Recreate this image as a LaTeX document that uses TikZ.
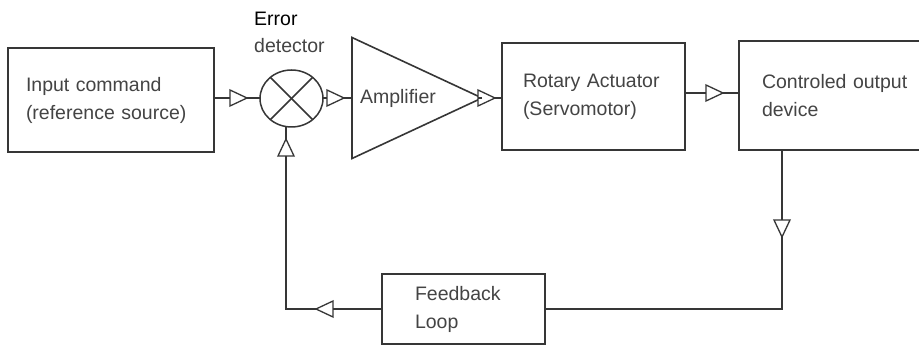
\documentclass[tikz,border=0pt]{standalone}
\usepackage{fontspec}
\setmainfont{Liberation Sans}
\usetikzlibrary{shapes.geometric}
\definecolor{ln}{HTML}{363636}
\definecolor{tx}{HTML}{444444}
\tikzset{
  blockbox/.style={draw=ln, line width=1.6pt, rectangle, align=left, text=tx,
    font=\fontsize{19.5}{28}\selectfont, outer sep=0pt},
  conn/.style={draw=ln, line width=1.5pt},
  tri/.style={draw=ln, line width=1.3pt, fill=white, isosceles triangle,
    isosceles triangle stretches, minimum width=16pt, minimum height=17pt,
    inner sep=0pt, outer sep=0pt},
  lbl/.style={text=tx, font=\fontsize{19.5}{28}\selectfont, inner sep=0pt}
}
\begin{document}
\begin{tikzpicture}[x=1pt,y=-1pt]
\path[use as bounding box, clip] (0,0) rectangle (919,347);
\fill[white] (0,0) rectangle (919,347);

% blocks
\node[blockbox, minimum width=206pt, minimum height=104pt, text width=170pt, inner xsep=18pt]
  (in) at (111,100) {Input command\\(reference source)};
\node[draw=ln, line width=1.5pt, ellipse, minimum width=63pt, minimum height=57pt, inner sep=0pt, outer sep=0pt]
  (det) at (291.5,98.5) {};
\draw[conn] (det.135) -- (det.-45);
\draw[conn] (det.45) -- (det.-135);
\node[lbl, text=black, anchor=base west] (err) at (254,26) {Error};
\node[lbl, anchor=base west] (detl) at (254,53) {detector};

\node[draw=ln, line width=1.6pt, isosceles triangle, isosceles triangle stretches,
  minimum width=121pt, minimum height=130pt, inner sep=0pt, outer sep=0pt,
  anchor=lower side] (amp) at (352,98) {};
\node[lbl] (ampl) at (398,98) {Amplifier};

\node[blockbox, minimum width=183pt, minimum height=107pt, text width=141pt, inner xsep=21pt]
  (rot) at (593.5,96.5) {Rotary Actuator\\(Servomotor)};
\node[blockbox, minimum width=200pt, minimum height=109pt, text width=154pt, inner xsep=23pt]
  (out) at (839,95.5) {Controled output\\device};
\node[blockbox, minimum width=163pt, minimum height=70pt, text width=97pt, inner xsep=33pt]
  (fb) at (463.5,309) {Feedback\\Loop};

% arrow triangles
\node[tri, anchor=lower side] (t1) at (230,98) {};
\node[tri, anchor=lower side] (t2) at (327,98) {};
\node[tri, anchor=lower side] (t3) at (478,98) {};
\node[tri, anchor=lower side] (t4) at (706,93) {};
\node[tri, shape border rotate=270, anchor=lower side] (t5) at (782,220) {};
\node[tri, shape border rotate=180, anchor=lower side] (t6) at (333,309) {};
\node[tri, shape border rotate=90, anchor=lower side] (t7) at (286,156) {};

% connectors
\draw[conn] (t1.lower side -| in.east) -- (t1.lower side);
\draw[conn] (t1.apex) -- (t1.apex -| det.west);
\draw[conn] (t2.lower side -| det.east) -- (t2.lower side);
\draw[conn] (t2.apex) -- (t2.apex -| amp.lower side);
\draw[conn] (amp.apex) -- (t3.lower side);
\draw[conn] (t3.apex) -- (t3.apex -| rot.west);
\draw[conn] (t4.lower side -| rot.east) -- (t4.lower side);
\draw[conn] (t4.apex) -- (t4.apex -| out.west);
\draw[conn] (t5.lower side |- out.south) -- (t5.lower side);
\draw[conn] (t5.apex) |- (fb.east);
\draw[conn] (fb.west) -- (t6.lower side);
\draw[conn] (t6.apex) -| (t7.lower side);
\draw[conn] (t7.apex) -- (t7.apex |- det.south);
\end{tikzpicture}
\end{document}
